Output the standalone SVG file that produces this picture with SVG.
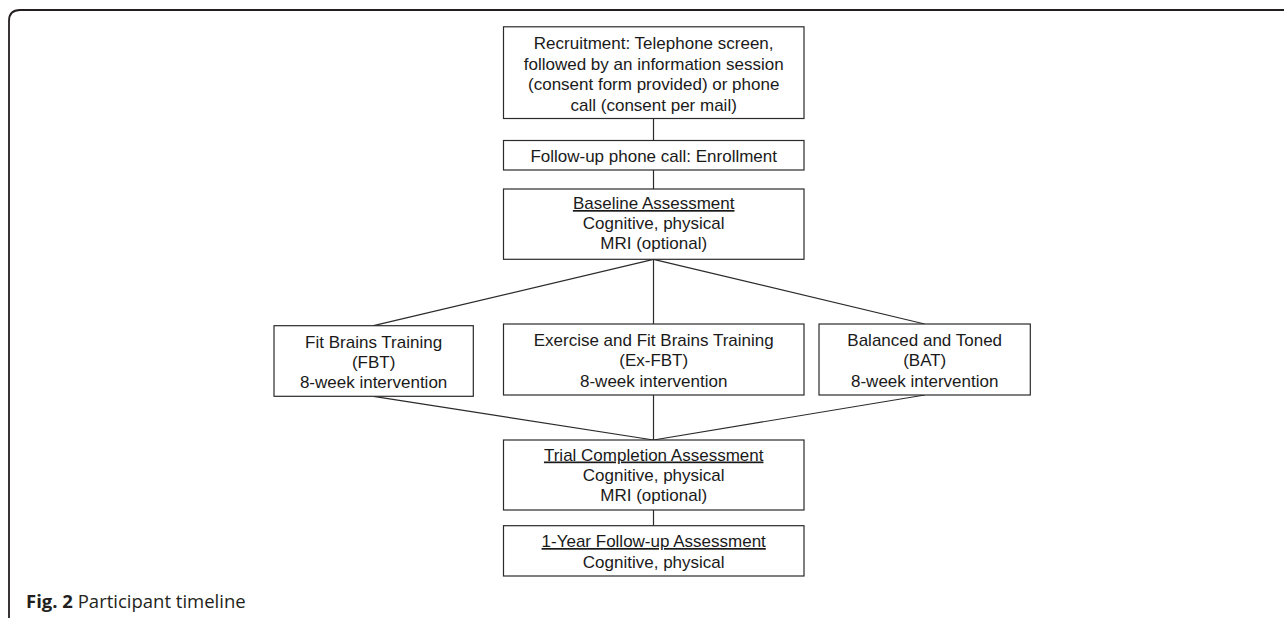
<svg xmlns="http://www.w3.org/2000/svg" width="1284" height="618" viewBox="0 0 1284 618">
<style>
.bx{fill:#fff;stroke:#2b2b2b;stroke-width:1.2}
.t{font-family:"Liberation Sans",Arial,Helvetica,sans-serif;font-size:17px;fill:#1a1a1a;text-anchor:middle}
.u{text-decoration:underline}
.c{stroke:#2b2b2b;stroke-width:1.2;fill:none}
.cap{font-family:"Open Sans","Noto Sans",sans-serif;font-size:18.5px;fill:#231f20}
</style>
<rect width="1284" height="618" fill="#fff"/>
<path d="M9 618 V21 Q9 10 20 10 H1284" fill="none" stroke="#231f20" stroke-width="1.8"/>
<g id="connectors">
<line class="c" x1="653.5" y1="118.5" x2="653.5" y2="140.5"/>
<line class="c" x1="653.5" y1="170" x2="653.5" y2="189"/>
<line class="c" x1="653.5" y1="259.3" x2="373.5" y2="325.7"/>
<line class="c" x1="653.5" y1="259.3" x2="653.5" y2="324"/>
<line class="c" x1="653.5" y1="259.3" x2="924.7" y2="324"/>
<line class="c" x1="373.5" y1="396.3" x2="653.5" y2="440"/>
<line class="c" x1="653.5" y1="395" x2="653.5" y2="440"/>
<line class="c" x1="924.7" y1="395" x2="653.5" y2="440"/>
<line class="c" x1="653.5" y1="510" x2="653.5" y2="525.7"/>
</g>
<g id="recruitment">
<rect class="bx" x="503.5" y="26.8" width="300.5" height="91.7"/>
<text class="t" x="653.7" y="49.3">Recruitment: Telephone screen,</text>
<text class="t" x="653.7" y="69.8">followed by an information session</text>
<text class="t" x="653.7" y="90.2">(consent form provided) or phone</text>
<text class="t" x="653.7" y="110.5">call (consent per mail)</text>
</g>
<g id="enrollment">
<rect class="bx" x="503.5" y="140.5" width="300.5" height="29.5"/>
<text class="t" x="653.7" y="161.5">Follow-up phone call: Enrollment</text>
</g>
<g id="baseline">
<rect class="bx" x="503.5" y="189" width="300.5" height="70.3"/>
<text class="t u" x="653.7" y="209">Baseline Assessment</text>
<text class="t" x="653.7" y="229.3">Cognitive, physical</text>
<text class="t" x="653.7" y="249.3">MRI (optional)</text>
</g>
<g id="fbt">
<rect class="bx" x="274" y="325.7" width="199.3" height="70.6"/>
<text class="t" x="373.6" y="347.5">Fit Brains Training</text>
<text class="t" x="373.6" y="367.5">(FBT)</text>
<text class="t" x="373.6" y="387.5">8-week intervention</text>
</g>
<g id="exfbt">
<rect class="bx" x="503.5" y="324" width="300.5" height="71"/>
<text class="t" x="653.7" y="346">Exercise and Fit Brains Training</text>
<text class="t" x="653.7" y="366">(Ex-FBT)</text>
<text class="t" x="653.7" y="386.5">8-week intervention</text>
</g>
<g id="bat">
<rect class="bx" x="819" y="324" width="211.3" height="71"/>
<text class="t" x="924.7" y="346">Balanced and Toned</text>
<text class="t" x="924.7" y="366">(BAT)</text>
<text class="t" x="924.7" y="386.5">8-week intervention</text>
</g>
<g id="trial">
<rect class="bx" x="503.5" y="440" width="300.5" height="70"/>
<text class="t u" x="653.7" y="460.5">Trial Completion Assessment</text>
<text class="t" x="653.7" y="481">Cognitive, physical</text>
<text class="t" x="653.7" y="501">MRI (optional)</text>
</g>
<g id="followup">
<rect class="bx" x="503.5" y="525.7" width="300.5" height="50.3"/>
<text class="t u" x="653.7" y="547">1-Year Follow-up Assessment</text>
<text class="t" x="653.7" y="567.5">Cognitive, physical</text>
</g>
<text class="cap" x="26" y="608"><tspan font-weight="bold">Fig. 2</tspan> Participant timeline</text>
</svg>
